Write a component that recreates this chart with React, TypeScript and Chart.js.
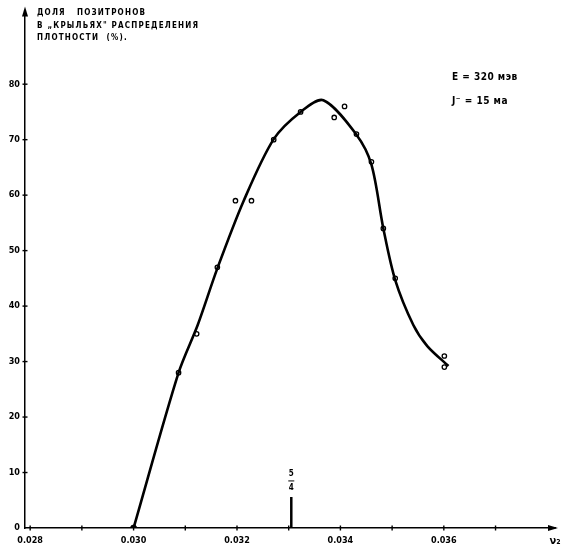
import React, { useEffect, useRef } from 'react';
import { Chart, registerables } from 'chart.js';
Chart.register(...registerables);

// Smooth hand-drawn curve (x = ν, y = % of positrons)
const curveX = [0.0300, 0.03087, 0.03124, 0.03162, 0.03213, 0.03271, 0.03323, 0.03367, 0.03431, 0.03460, 0.03483, 0.03506, 0.03541, 0.03568, 0.03609];
const curveY = [0, 28.0, 36.6, 46.8, 59.0, 70.1, 75.0, 77.1, 70.9, 65.5, 54.0, 44.7, 36.6, 32.8, 29.2];

// Measured points (open circles)
const pointX = [0.03087, 0.03122, 0.03162, 0.03197, 0.03228, 0.03271, 0.03323, 0.03388, 0.03408, 0.03431, 0.03460, 0.03483, 0.03506, 0.03601, 0.03601];
const pointY = [28, 35, 47, 59, 59, 70, 75, 74, 76, 71, 66, 54, 45, 31, 29];

// Start point (filled)
const startX = [0.0300];
const startY = [0];

// Marker on the axis
const markerX = [0.03305, 0.03305];
const markerY = [0, 5.6];

const yTicks = [0, 10, 20, 30, 40, 50, 60, 70, 80];
const xTicks = [0.028, 0.029, 0.030, 0.031, 0.032, 0.033, 0.034, 0.035, 0.036, 0.037];
const xTickLabels = ['0.028', '', '0.030', '', '0.032', '', '0.034', '', '0.036', ''];

const titleLines = ['ДОЛЯ   ПОЗИТРОНОВ', 'В „КРЫЛЬЯХ" РАСПРЕДЕЛЕНИЯ', 'ПЛОТНОСТИ  (%).'];
const noteLines = ['E = 320 мэв', 'J⁻ = 15 ма'];
const xAxisName = 'ν₂';
const markerTop = '5';
const markerBottom = '4';

const FONT = "'DejaVu Sans Condensed', 'DejaVu Sans', sans-serif";

const decor = {
  id: 'decor',
  afterDraw(chart: any) {
    const { ctx, chartArea, scales } = chart;
    const xs = scales.x, ys = scales.y;
    ctx.save();
    ctx.strokeStyle = '#000';
    ctx.fillStyle = '#000';
    ctx.lineWidth = 1.4;
    // tick crosses
    xTicks.forEach((v) => {
      const px = xs.getPixelForValue(v);
      ctx.beginPath();
      ctx.moveTo(px, chartArea.bottom - 2.5);
      ctx.lineTo(px, chartArea.bottom + 2.5);
      ctx.stroke();
    });
    yTicks.forEach((v) => {
      if (v === 0) return;
      const py = ys.getPixelForValue(v);
      ctx.beginPath();
      ctx.moveTo(chartArea.left - 2.5, py);
      ctx.lineTo(chartArea.left + 2.5, py);
      ctx.stroke();
    });
    // arrows
    const L = chartArea.left, B = chartArea.bottom;
    ctx.beginPath();
    ctx.moveTo(L, chartArea.top - 4);
    ctx.lineTo(L - 3, chartArea.top + 6);
    ctx.lineTo(L + 3, chartArea.top + 6);
    ctx.closePath();
    ctx.fill();
    ctx.beginPath();
    ctx.moveTo(chartArea.right + 3, B);
    ctx.lineTo(chartArea.right - 7, B - 3);
    ctx.lineTo(chartArea.right - 7, B + 3);
    ctx.closePath();
    ctx.fill();
    // title
    ctx.font = `bold 8px ${FONT}`;
    (ctx as any).letterSpacing = '1.2px';
    ctx.textAlign = 'left';
    ctx.textBaseline = 'middle';
    titleLines.forEach((t, i) => ctx.fillText(t, 37, 13 + i * 12.5));
    // notes
    ctx.font = `bold 10px ${FONT}`;
    (ctx as any).letterSpacing = '0.5px';
    noteLines.forEach((t, i) => ctx.fillText(t, 452, 77 + i * 24));
    // x axis name
    ctx.font = `bold 11px ${FONT}`;
    (ctx as any).letterSpacing = '0px';
    ctx.textAlign = 'center';
    ctx.fillText(xAxisName, chartArea.right, B + 13);
    // marker label
    const mx = xs.getPixelForValue(markerX[0]);
    const my = ys.getPixelForValue(markerY[1]);
    ctx.font = `bold 8px ${FONT}`;
    ctx.fillText(markerTop, mx, my - 23);
    ctx.fillText(markerBottom, mx, my - 9);
    ctx.lineWidth = 1;
    ctx.beginPath();
    ctx.moveTo(mx - 3, my - 16);
    ctx.lineTo(mx + 3, my - 16);
    ctx.stroke();
    ctx.restore();
  },
};

export default function App() {
  const ref = useRef<HTMLCanvasElement>(null);
  useEffect(() => {
    document.body.style.margin = '0';
    const chart = new Chart(ref.current!, {
      type: 'line',
      data: {
        datasets: [
          {
            data: curveX.map((x, i) => ({ x, y: curveY[i] })),
            borderColor: '#000',
            borderWidth: 2.6,
            pointRadius: 0,
            tension: 0.3,
            fill: false,
          } as any,
          {
            data: pointX.map((x, i) => ({ x, y: pointY[i] })),
            showLine: false,
            pointRadius: 2.2,
            pointBorderWidth: 1.3,
            pointBackgroundColor: '#fff',
            pointBorderColor: '#000',
          },
          {
            data: startX.map((x, i) => ({ x, y: startY[i] })),
            showLine: false,
            pointRadius: 3,
            pointBackgroundColor: '#000',
            pointBorderColor: '#000',
          },
          {
            data: markerX.map((x, i) => ({ x, y: markerY[i] })),
            borderColor: '#000',
            borderWidth: 2.5,
            pointRadius: 0,
          },
        ],
      },
      options: {
        responsive: false,
        animation: false,
        devicePixelRatio: 1,
        layout: { padding: { left: 0, right: 11, top: 8, bottom: 0 } },
        plugins: { legend: { display: false }, tooltip: { enabled: false } },
        scales: {
          x: {
            type: 'linear',
            min: 0.0279,
            max: 0.03815,
            afterBuildTicks: (s: any) => { s.ticks = xTicks.map((v) => ({ value: v })); },
            afterFit: (s: any) => { s.height = 23; },
            grid: { display: false, drawTicks: false },
            border: { display: true, color: '#000', width: 1.5 },
            ticks: {
              autoSkip: false,
              maxRotation: 0,
              padding: 7,
              color: '#000',
              font: { family: FONT, size: 9, weight: 'bold' },
              callback: (_v: any, i: number) => xTickLabels[i],
            },
          },
          y: {
            type: 'linear',
            min: 0,
            max: 93.3,
            afterBuildTicks: (s: any) => { s.ticks = yTicks.map((v) => ({ value: v })); },
            afterFit: (s: any) => { s.width = 25; },
            grid: { display: false, drawTicks: false },
            border: { display: true, color: '#000', width: 1.5 },
            ticks: {
              padding: 5,
              color: '#000',
              font: { family: FONT, size: 9, weight: 'bold' },
              callback: (v: any) => String(v),
            },
          },
        },
      },
      plugins: [decor],
    });
    return () => chart.destroy();
  }, []);
  return (
    <div style={{ width: 566, height: 551, position: 'relative', background: '#fff' }}>
      <canvas ref={ref} width={566} height={551} style={{ display: 'block' }} />
    </div>
  );
}
